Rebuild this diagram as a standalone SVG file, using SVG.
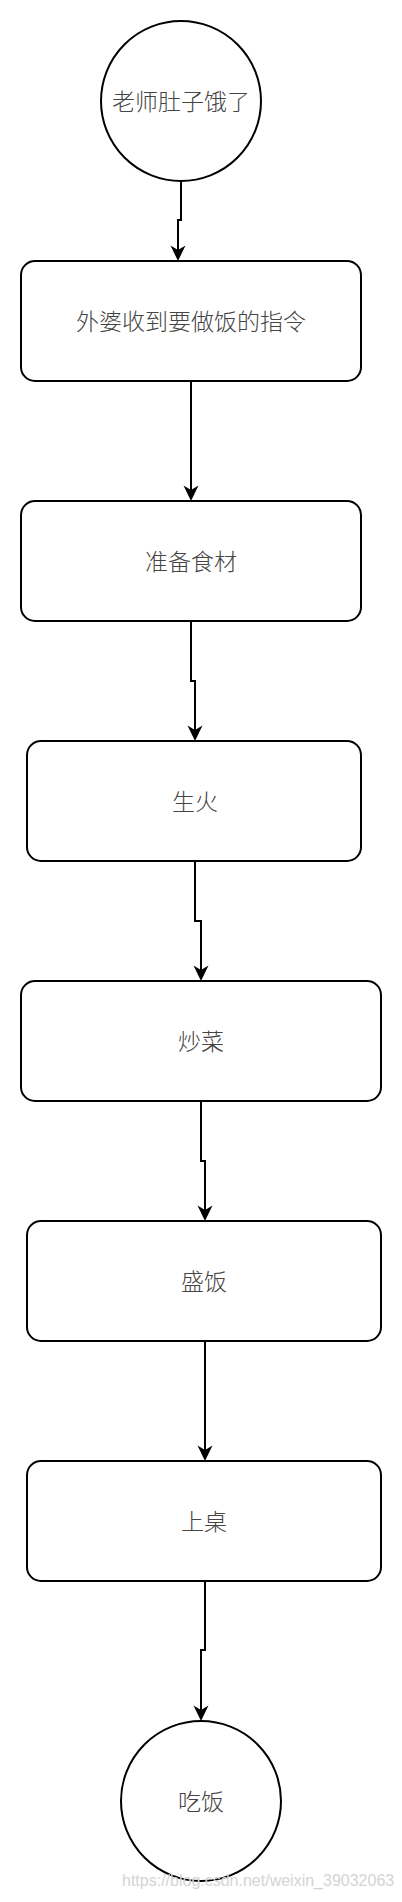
<svg xmlns="http://www.w3.org/2000/svg" width="402" height="1902" viewBox="0 0 402 1902">
<style>
.shape{fill:#fff;stroke:#000;stroke-width:2}
.lbl{font-family:"Noto Sans CJK SC","Noto Sans",sans-serif;font-size:23px;font-weight:300;fill:#444;text-anchor:middle}
.edge{fill:none;stroke:#000;stroke-width:2}
.wm{font-family:"Liberation Sans",Arial,sans-serif;font-size:16px;fill:#d4d4d4}
</style>
<defs>
<marker id="arr" viewBox="0 0 16 16" markerWidth="16" markerHeight="16" refX="13" refY="8" orient="auto" markerUnits="userSpaceOnUse">
<path d="M16 8 L0.5 0.5 L5 8 L0.5 15.5 Z" fill="#000"/>
</marker>
</defs>
<rect width="402" height="1902" fill="#fff"/>
<g id="connectors">
<path class="edge" marker-end="url(#arr)" d="M181 181 V220 H178 V258"/>
<path class="edge" marker-end="url(#arr)" d="M191 381 V498"/>
<path class="edge" marker-end="url(#arr)" d="M191 621 V681 H195 V738"/>
<path class="edge" marker-end="url(#arr)" d="M195 861 V921 H201 V978"/>
<path class="edge" marker-end="url(#arr)" d="M201 1101 V1161 H205 V1218"/>
<path class="edge" marker-end="url(#arr)" d="M205 1341 V1458"/>
<path class="edge" marker-end="url(#arr)" d="M205 1581 V1650 H201 V1718"/>
</g>
<g id="start">
<circle class="shape" cx="181" cy="101" r="80"/>
<text class="lbl" x="181" y="110">老师肚子饿了</text>
</g>
<g id="n1">
<rect class="shape" x="21" y="261" width="340" height="120" rx="14"/>
<text class="lbl" x="191" y="330">外婆收到要做饭的指令</text>
</g>
<g id="n2">
<rect class="shape" x="21" y="501" width="340" height="120" rx="14"/>
<text class="lbl" x="191" y="570">准备食材</text>
</g>
<g id="n3">
<rect class="shape" x="27" y="741" width="334" height="120" rx="14"/>
<text class="lbl" x="195" y="810">生火</text>
</g>
<g id="n4">
<rect class="shape" x="21" y="981" width="360" height="120" rx="14"/>
<text class="lbl" x="201" y="1050">炒菜</text>
</g>
<g id="n5">
<rect class="shape" x="27" y="1221" width="354" height="120" rx="14"/>
<text class="lbl" x="204" y="1290">盛饭</text>
</g>
<g id="n6">
<rect class="shape" x="27" y="1461" width="354" height="120" rx="14"/>
<text class="lbl" x="204" y="1530">上桌</text>
</g>
<g id="end">
<circle class="shape" cx="201" cy="1801" r="80"/>
<text class="lbl" x="201" y="1810">吃饭</text>
</g>
<text class="wm" x="122" y="1886">https://blog.csdn.net/weixin_39032063</text>
</svg>
